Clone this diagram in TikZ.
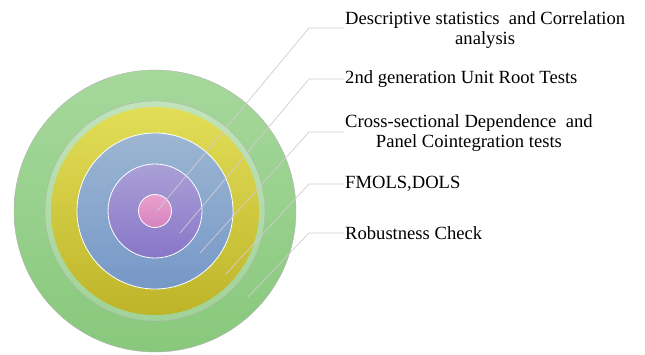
\documentclass[tikz,border=0pt]{standalone}
\usepackage{fontspec}
\setmainfont{Liberation Serif}
\definecolor{grtop}{RGB}{166,216,156}
\definecolor{grbot}{RGB}{136,200,124}
\definecolor{yetop}{RGB}{226,222,88}
\definecolor{yebot}{RGB}{190,180,40}
\definecolor{bltop}{RGB}{156,182,210}
\definecolor{blbot}{RGB}{118,152,200}
\definecolor{putop}{RGB}{170,160,214}
\definecolor{pubot}{RGB}{136,118,200}
\definecolor{pitop}{RGB}{232,160,206}
\definecolor{pibot}{RGB}{214,132,190}
\definecolor{leadgrey}{RGB}{212,202,212}
\begin{document}
\begin{tikzpicture}[x=1pt,y=-1pt,
  lead/.style={draw=leadgrey,line width=.7pt},
  lbl/.style={anchor=west,align=center,inner sep=1pt,font=\fontsize{18.6}{19.5}\selectfont}]
\useasboundingbox (0,0) rectangle (645,354);
\coordinate (c) at (155,211);
% rings, outside in
\shade[top color=grtop,bottom color=grbot,draw=gray!60] (c) circle (141pt);
\shade[top color=grtop!70!white,bottom color=grbot!80!white,draw=gray!60] (c) circle (110pt);
\shade[top color=yetop,bottom color=yebot] (c) circle (104pt);
\shade[top color=bltop,bottom color=blbot,draw=white,line width=.8pt] (c) circle (78pt);
\shade[top color=putop,bottom color=pubot,draw=white,line width=.8pt] (c) circle (47pt);
\shade[top color=pitop,bottom color=pibot,draw=white,line width=.8pt] (c) circle (16.5pt);

% labels
\node[lbl] (desc) at (344,30) {Descriptive statistics\ \ and Correlation\\analysis};
\node[lbl] (unit) at (344,79) {2nd generation Unit Root Tests};
\node[lbl] (csd) at (344,133) {Cross-sectional Dependence\ \ and\\Panel Cointegration tests};
\node[lbl] (fm) at (344,184) {FMOLS,DOLS};
\node[lbl] (rob) at (344,233) {Robustness Check};

% leaders
\coordinate (s1) at (157,211); \coordinate (k1) at (309,28);
\coordinate (s2) at (180,233); \coordinate (k2) at (309,79);
\coordinate (s3) at (200,253); \coordinate (k3) at (309,132);
\coordinate (s4) at (225,275); \coordinate (k4) at (309,184);
\coordinate (s5) at (248,297); \coordinate (k5) at (309,233);
\draw[lead] (s1)--(k1)--(desc.west|-k1);
\draw[lead] (s2)--(k2)--(unit.west);
\draw[lead] (s3)--(k3)--(csd.west|-k3);
\draw[lead] (s4)--(k4)--(fm.west);
\draw[lead] (s5)--(k5)--(rob.west);
\end{tikzpicture}
\end{document}
